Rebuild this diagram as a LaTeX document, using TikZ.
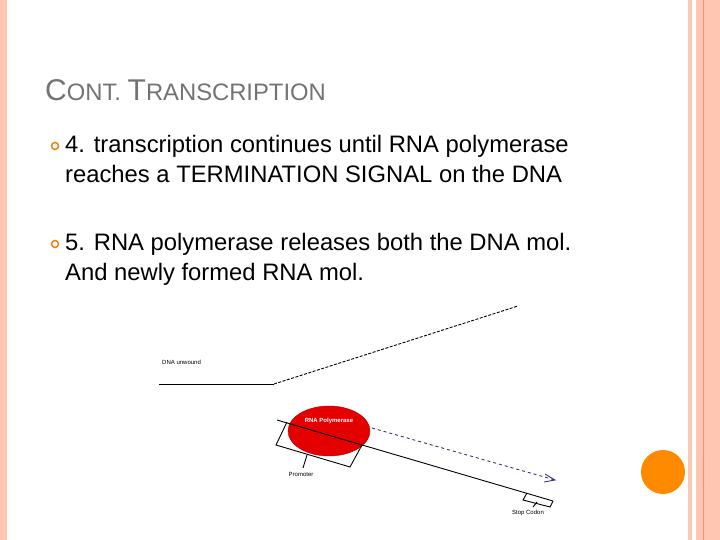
\documentclass[tikz,border=0pt]{standalone}
\usepackage{fontspec}
\setmainfont{Liberation Sans}
\usetikzlibrary{shapes.geometric}
\begin{document}
\begin{tikzpicture}[x=1pt,y=-1pt,
  body/.style={anchor=base west,font=\fontsize{23.8}{27}\selectfont,inner sep=0},
  tiny/.style={font=\fontsize{6}{7}\selectfont,inner sep=0},
  ln/.style={line width=0.9pt},
  bul/.style={circle,draw=orange!80!brown,line width=1.5pt,minimum size=7pt,inner sep=0}]
\useasboundingbox (0,0) rectangle (720,540);
\fill[white] (0,0) rectangle (720,540);
\fill[orange!25!pink!70] (0,0) rectangle (7,540);
\fill[orange!25!pink!70] (688,0) rectangle (692,540);
\fill[orange!25!pink!70] (696,0) rectangle (720,540);
\draw[orange!60!red!60,line width=0.8pt] (703,0) -- (703,540);
\fill[orange!80!yellow!90!red] (663,472) circle (22);
\node[anchor=base west,inner sep=0,text=gray!90!black] (title) at (45,101)
  {{\fontsize{30}{33}\selectfont C}{\fontsize{23.8}{26}\selectfont ONT. }{\fontsize{30}{33}\selectfont T}{\fontsize{23.8}{26}\selectfont RANSCRIPTION}};
\node[bul] (b1) at (55,146) {};
\node[body] (t1) at (65,153) {4. transcription continues until RNA polymerase};
\node[body] (t1b) at (65,183) {reaches a TERMINATION SIGNAL on the DNA};
\node[bul] (b2) at (55,244) {};
\node[body] (t2) at (65,251) {5. RNA polymerase releases both the DNA mol.};
\node[body] (t2b) at (65,280) {And newly formed RNA mol.};
% diagram
\node[tiny,anchor=west] (dnal) at (162,362) {DNA unwound};
\coordinate (d0) at (159,384); \coordinate (d1) at (274,384); \coordinate (d2) at (518,306);
\draw[ln] (d0) -- (d1);
\draw[ln,dash pattern=on 3pt off 1.5pt] (d1) -- (d2);
\node[ellipse,fill=red!90!black,draw=red!70!black,minimum width=82,minimum height=50,inner sep=0] (pol) at (329,431) {};
\node[tiny,text=white,font=\fontsize{6}{7}\selectfont\bfseries] (poll) at (329,421) {RNA Polymerase};
\coordinate (s0) at (277,420); \coordinate (s1) at (553,501);
\draw[ln] (s0) -- (s1);
\draw[ln] (287,422) -- (276,445) -- (350,467) -- (362,445);
\draw[ln] (307,455) -- (303,468);
\node[tiny,anchor=north] (prom) at (301,472) {Promoter};
\draw[ln,dashed,gray!60!blue!70!black] (372,428) -- (555,480);
\draw[ln,gray!60!blue!70!black] (545,474) -- (555,480) -- (544,482);
\draw[ln] (527,493) -- (523,500) -- (550,507) -- (553,501);
\draw[ln] (537,502) -- (533,507);
\node[tiny,anchor=north] (stop) at (528,510) {Stop Codon};
\end{tikzpicture}
\end{document}
